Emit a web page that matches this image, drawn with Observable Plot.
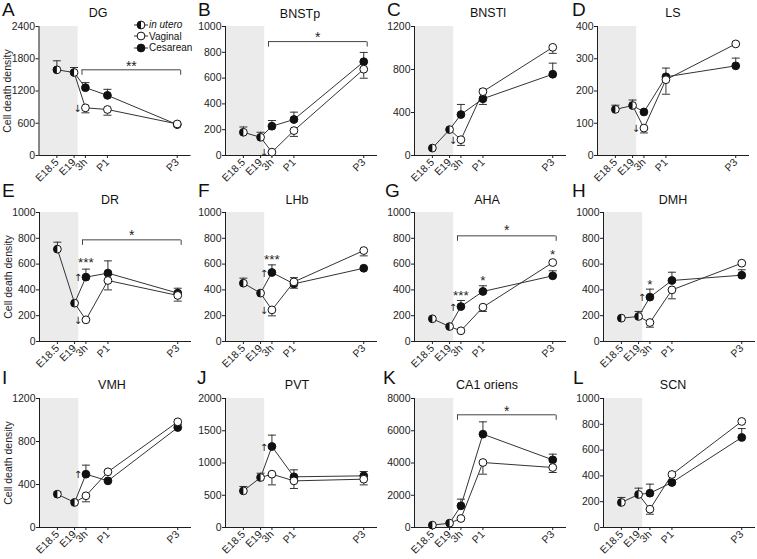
<!DOCTYPE html>
<html><head><meta charset="utf-8">
<script src="https://cdn.jsdelivr.net/npm/d3@7"></script>
<script src="https://cdn.jsdelivr.net/npm/@observablehq/plot@0.6"></script>
<style>
body{margin:0;background:#fff;font-family:Arial,"Liberation Sans",sans-serif;color:#1a1a1a}
#fig{position:relative;width:757px;height:559px;overflow:hidden;background:#fff}
.panel{position:absolute;overflow:visible}
.letter{position:absolute;font-size:19px;line-height:16px;color:#111}
.title{position:absolute;font-size:12.5px;line-height:14px;transform:translateX(-50%);white-space:nowrap;color:#111}
.legend{position:absolute;font-size:10px;line-height:11.5px;color:#111}
.legend div{display:flex;align-items:center;height:11.5px}
.legend svg{margin-right:1px}
</style></head><body><div id="fig"></div><script>
// ---- data ----
const timepoints = ["E18.5", "E19", "3h", "P1", "P3"];
const timePos = [0, 0.5, 0.83, 1.47, 3.5];
const birthPos = 0.62;
const xMin = -0.52, xMax = 3.9;

const letters = ["A","B","C","D","E","F","G","H","I","J","K","L"];
const regions = ["DG","BNSTp","BNSTl","LS","DR","LHb","AHA","DMH","VMH","PVT","CA1 oriens","SCN"];
const yMax  = [2400, 1000, 1200, 400, 1000, 1000, 1000, 1000, 1200, 2000, 8000, 1000];
const yStep = [600, 200, 400, 100, 200, 200, 200, 200, 400, 500, 2000, 200];

// in utero: E18.5, E19
const inUtero    = [[1594,1544],[180,141],[69,241],[143,155],[716,297],[452,375],[176,116],[181,194],[310,233],[568,775],[145,269],[194,256]];
const inUteroErr = [[1762,1637],[221,180],[null,null],[156,172],[770,null],[491,null],[null,null],[null,233],[332,248],[636,842],[null,null],[233,305]];
// vaginal: 3h, P1, P3
const vaginal    = [[887,856,587],[26,193,669],[147,594,1006],[85,235,346],[168,473,357],[245,462,705],[83,266,612],[147,400,607],[295,518,983],[827,723,749],[558,4031,3721],[142,411,822]];
const vaginalErr = [[794,750,null],[null,148,599],[94,617,950],[70,190,null],[null,400,313],[199,495,664],[null,233,null],[111,331,null],[239,null,958],[661,605,661],[null,3307,3411],[103,null,null]];
// cesarean: 3h, P1, P3
const cesarean    = [[1262,1119,575],[227,279,727],[381,528,756],[135,244,278],[499,530,375],[535,447,568],[271,388,509],[344,473,514],[496,434,930],[1256,786,801],[1344,5788,4196],[266,349,698]];
const cesareanErr = [[1356,1231,null],[271,336,799],[475,475,859],[null,271,302],[561,625,413],[594,413,null],[318,432,548],[406,537,556],[580,null,null],[1432,894,868],[1757,6553,4548],[336,null,767]];

// brackets 3h..P3 : panel, bracket value, star value, text
const brackets = [
  {p:"A", y:1594, sy:1731, t:"**"},
  {p:"B", y:883, sy:943, t:"*"},
  {p:"E", y:788, sy:853, t:"*"},
  {p:"G", y:819, sy:891, t:"*"},
  {p:"K", y:6989, sy:7442, t:"*"}
];
// stars at time points
const pointStars = [
  {p:"E", x:"3h", y:633, t:"***"},
  {p:"F", x:"3h", y:659, t:"***"},
  {p:"G", x:"3h", y:375, t:"***"},
  {p:"G", x:"P1", y:491, t:"*"},
  {p:"G", x:"P3", y:698, t:"*"},
  {p:"H", x:"3h", y:465, t:"*"}
];
// arrows at 3h: up = cesarean, down = vaginal
const arrows = [
  {p:"A", d:"down"},{p:"B", d:"down"},{p:"C", d:"down"},{p:"D", d:"down"},
  {p:"E", d:"up"},{p:"E", d:"down"},{p:"F", d:"up"},{p:"F", d:"down"},
  {p:"G", d:"up"},{p:"H", d:"up"},{p:"I", d:"up"},{p:"J", d:"up"}
];

// ---- layout ----
const colX = [0, 189, 378, 567];
const rowY = [0, 186, 372];
const marginLeft = [38.5, 36, 36, 30, 39, 36, 36, 36, 39, 36, 36, 36];
const letterX = [2, 198, 387, 572, 2, 198, 385, 572, 2, 197, 383, 573];
const letterY = [2.4, 2.4, 2.4, 2.4, 183.4, 183.4, 183.4, 183.4, 370.4, 370.4, 370.4, 370.4];
const titleX = [98, 300, 488, 673, 110, 297, 487, 673, 112, 297, 487, 673];
const titleY = [6, 7, 6, 6, 193, 193, 193, 193, 378, 378, 378, 378];

const ink = "#1e1e1e";
const plotW = 152;
const fontMain = 'Arial, "Liberation Sans", sans-serif';

const capSymbol = {draw(ctx, size){ const r = Math.sqrt(size/Math.PI); ctx.moveTo(-r,0); ctx.lineTo(r,0); }};
const downTick = {draw(ctx, size){ const r = Math.sqrt(size/Math.PI); ctx.moveTo(0,0); ctx.lineTo(0,r); }};
const halfLeft = {draw(ctx, size){ const r = Math.sqrt(size/Math.PI); ctx.moveTo(0,-r); ctx.arc(0,0,r,-Math.PI/2,Math.PI/2,true); ctx.closePath(); }};

const pos = t => timePos[timepoints.indexOf(t)];
const fig = document.getElementById("fig");

letters.forEach((L, i) => {
  const col = i % 4, row = Math.floor(i / 4);
  const ml = marginLeft[i];
  const ym = yMax[i];
  const iu = inUtero[i].map((v,k) => ({x: timePos[k], y: v, e: inUteroErr[i][k]}));
  const vag = vaginal[i].map((v,k) => ({x: timePos[k+2], y: v, e: vaginalErr[i][k]}));
  const ces = cesarean[i].map((v,k) => ({x: timePos[k+2], y: v, e: cesareanErr[i][k]}));
  const lines = [
    ...iu.map(d => ({...d, s:"u"})),
    ...[iu[1], ...vag].map(d => ({...d, s:"v"})),
    ...[iu[1], ...ces].map(d => ({...d, s:"c"}))
  ];
  const errs = [...iu, ...vag, ...ces].filter(d => d.e != null);
  const br = brackets.filter(b => b.p === L);
  const brEnds = br.flatMap(b => [{x: pos("3h") - 0.1, y: b.y}, {x: pos("P3") + 0.1, y: b.y}]);
  const ps = pointStars.filter(s => s.p === L);
  const ar = arrows.filter(a => a.p === L).map(a => ({
    x: pos("3h"), y: a.d === "up" ? cesarean[i][0] : vaginal[i][0], t: a.d === "up" ? "\u2191" : "\u2193"
  }));

  const plot = Plot.plot({
    width: ml + plotW + 4, height: 186,
    marginLeft: ml, marginRight: 4, marginTop: 26, marginBottom: 31,
    x: {domain: [xMin, xMax]},
    y: {domain: [0, ym]},
    style: {fontFamily: fontMain, fontSize: "10.5px", color: ink, overflow: "visible", background: "transparent"},
    marks: [
      Plot.rect([0], {x1: xMin, x2: birthPos, y1: 0, y2: ym, fill: "#ebebeb"}),
      Plot.ruleX([xMin], {stroke: ink, strokeWidth: 1}),
      Plot.ruleY([0], {stroke: ink, strokeWidth: 1}),
      Plot.axisY({ticks: d3.range(0, ym + 1, yStep[i]), tickFormat: d => String(d), tickSize: 3, tickPadding: 1,
        label: col === 0 ? "Cell death density" : null, labelAnchor: "center", labelArrow: "none", labelOffset: 35, fontSize: 10.5}),
      Plot.axisX({ticks: timePos, tickFormat: d => timepoints[timePos.indexOf(d)], tickRotate: -45, tickSize: 3, tickPadding: 2, label: null, fontSize: 10.5}),
      Plot.line(lines, {x: "x", y: "y", z: "s", stroke: "#333", strokeWidth: 1}),
      Plot.ruleX(errs, {x: "x", y1: "y", y2: "e", stroke: "#333", strokeWidth: 1}),
      Plot.dot(errs, {x: "x", y: "e", symbol: capSymbol, r: 4, stroke: "#333", fill: "none", strokeWidth: 1}),
      Plot.ruleY(br, {y: "y", x1: pos("3h") - 0.1, x2: pos("P3") + 0.1, stroke: "#444", strokeWidth: 1}),
      Plot.dot(brEnds, {x: "x", y: "y", symbol: downTick, r: 5, stroke: "#444", fill: "none", strokeWidth: 1}),
      Plot.text(br, {x: (pos("3h") + pos("P3")) / 2, y: "sy", text: "t", fontSize: 14, dy: 4, rotate: 0.01, fill: ink}),
      Plot.text(ps, {x: d => pos(d.x), y: "y", text: "t", fontSize: 13.5, dy: 3, rotate: 0.01, fill: ink}),
      Plot.text(ar, {x: "x", y: "y", text: "t", fontSize: 10, fontFamily: "DejaVu Sans", dx: -8, dy: 1, rotate: 0.01, fill: ink}),
      Plot.dot(ces, {x: "x", y: "y", r: 3.9, fill: "#111", stroke: "#111", strokeWidth: 1}),
      Plot.dot(vag, {x: "x", y: "y", r: 3.9, fill: "#fff", stroke: "#111", strokeWidth: 1}),
      Plot.dot(iu, {x: "x", y: "y", r: 3.9, fill: "#fff", stroke: "#111", strokeWidth: 1}),
      Plot.dot(iu, {x: "x", y: "y", r: 3.9, symbol: halfLeft, fill: "#111", stroke: "none"})
    ]
  });
  plot.classList.add("panel");
  plot.style.left = colX[col] + "px";
  plot.style.top = rowY[row] + "px";
  fig.appendChild(plot);

  const lt = document.createElement("div");
  lt.className = "letter"; lt.textContent = L;
  lt.style.left = letterX[i] + "px"; lt.style.top = letterY[i] + "px";
  fig.appendChild(lt);

  const tt = document.createElement("div");
  tt.className = "title"; tt.textContent = regions[i];
  tt.style.left = titleX[i] + "px"; tt.style.top = titleY[i] + "px";
  fig.appendChild(tt);
});

// legend (panel A)
const legendItems = [
  {label: "in utero", kind: "half", italic: true},
  {label: "Vaginal", kind: "open", italic: false},
  {label: "Cesarean", kind: "filled", italic: false}
];
const lg = document.createElement("div");
lg.className = "legend";
lg.style.left = "134px"; lg.style.top = "19px";
legendItems.forEach(it => {
  const row = document.createElement("div");
  let marker = `<line x1="0" y1="5" x2="14" y2="5" stroke="#333"/>`;
  if (it.kind === "filled") marker += `<circle cx="7" cy="5" r="3.9" fill="#111" stroke="#111"/>`;
  else marker += `<circle cx="7" cy="5" r="3.9" fill="#fff" stroke="#111"/>`;
  if (it.kind === "half") marker += `<path d="M7,1.1A3.9,3.9 0 0 0 7,8.9Z" fill="#111"/>`;
  row.innerHTML = `<svg width="14" height="10" style="overflow:visible">${marker}</svg><span style="${it.italic ? "font-style:italic" : ""}">${it.label}</span>`;
  lg.appendChild(row);
});
fig.appendChild(lg);
</script></body></html>
